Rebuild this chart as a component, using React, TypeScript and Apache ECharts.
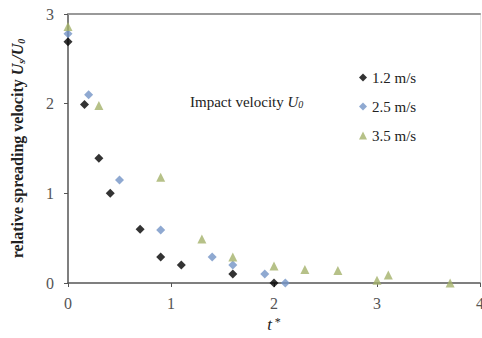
import React, { useEffect, useRef } from "react";
import * as echarts from "echarts";

const xTicks = [0, 1, 2, 3, 4];
const yTicks = [0, 1, 2, 3];

const seriesNames = ["1.2 m/s", "2.5 m/s", "3.5 m/s"];

const v12: [number, number][] = [
  [0, 2.69], [0.16, 1.99], [0.3, 1.39], [0.41, 1.0], [0.7, 0.6],
  [0.9, 0.29], [1.1, 0.2], [1.6, 0.1], [2.0, 0.0],
];
const v25: [number, number][] = [
  [0, 2.78], [0.2, 2.1], [0.5, 1.15], [0.9, 0.59], [1.4, 0.29],
  [1.6, 0.2], [1.91, 0.1], [2.11, 0.0],
];
const v35: [number, number][] = [
  [0, 2.86], [0.3, 1.98], [0.9, 1.18], [1.3, 0.49], [1.6, 0.29],
  [2.0, 0.19], [2.3, 0.15], [2.62, 0.14], [3.0, 0.03], [3.11, 0.09], [3.71, 0.0],
];

const colors = ["#000000", "#7393c6", "#a4b26a"];
const symbols = ["diamond", "diamond", "triangle"];

const serif = "'Liberation Serif', 'Times New Roman', serif";

export default function App() {
  const ref = useRef<HTMLDivElement>(null);
  useEffect(() => {
    document.body.style.margin = "0";
    const chart = echarts.init(ref.current!, null, { renderer: "svg" });
    const data = [v12, v25, v35];
    chart.setOption({
      animation: false,
      backgroundColor: "#ffffff",
      grid: { left: 68, right: 2, top: 14, bottom: 55, outerBoundsMode: "none", containLabel: false },
      legend: {
        orient: "vertical",
        left: 354,
        top: 65,
        itemGap: 14,
        itemWidth: 8,
        itemHeight: 8,
        data: seriesNames,
        textStyle: { fontFamily: serif, fontSize: 15, color: "#222" },
      },
      graphic: [
        {
          type: "text",
          left: 190,
          top: 94,
          style: {
            text: "{n|Impact velocity }{i|U}{s|0}",
            rich: {
              n: { fontFamily: serif, fontSize: 15, fill: "#222" },
              i: { fontFamily: serif, fontSize: 15, fontStyle: "italic", fill: "#222" },
              s: { fontFamily: serif, fontSize: 10, fontStyle: "italic", fill: "#222", padding: [6, 0, 0, 0] },
            },
          },
        },
      ],
      xAxis: [
        {
          type: "value",
          min: 0,
          max: 4,
          interval: 1,
          name: "{i|t}{s|*}",
          nameLocation: "middle",
          nameGap: 32,
          nameTextStyle: {
            rich: {
              i: { fontFamily: serif, fontSize: 17, fontStyle: "italic", color: "#222" },
              s: { fontFamily: serif, fontSize: 12, color: "#222", padding: [0, 0, 6, 3] },
            },
          },
          axisLine: { show: true, onZero: false, lineStyle: { color: "#555", width: 1.5 } },
          axisTick: { show: true, length: 4, lineStyle: { color: "#555" } },
          axisLabel: {
            fontFamily: serif,
            fontSize: 16,
            color: "#555",
            margin: 12,
            formatter: (v: number) => (xTicks.includes(v) ? String(v) : ""),
          },
          splitLine: { show: false },
        },
        {
          type: "value",
          position: "top",
          min: 0,
          max: 4,
          axisLine: { show: true, onZero: false, lineStyle: { color: "#999", width: 2 } },
          axisTick: { show: false },
          axisLabel: { show: false },
          splitLine: { show: false },
        },
      ],
      yAxis: [
        {
          type: "value",
          min: 0,
          max: 3,
          interval: 1,
          name: "{b|relative spreading velocity }{i|U}{s|s}{i|/U}{s|0}",
          nameLocation: "middle",
          nameGap: 42,
          nameRotate: 90,
          nameTextStyle: {
            rich: {
              b: { fontFamily: serif, fontSize: 16, fontWeight: "bold", color: "#222" },
              i: { fontFamily: serif, fontSize: 16, fontWeight: "bold", fontStyle: "italic", color: "#222" },
              s: { fontFamily: serif, fontSize: 10, fontWeight: "bold", fontStyle: "italic", color: "#222", padding: [7, 0, 0, 0] },
            },
          },
          axisLine: { show: true, onZero: false, lineStyle: { color: "#555", width: 1.5 } },
          axisTick: { show: true, length: 4, lineStyle: { color: "#555" } },
          axisLabel: {
            fontFamily: serif,
            fontSize: 16,
            color: "#555",
            margin: 14,
            formatter: (v: number) => (yTicks.includes(v) ? String(v) : ""),
          },
          splitLine: { show: false },
        },
        {
          type: "value",
          position: "right",
          min: 0,
          max: 3,
          axisLine: { show: true, onZero: false, lineStyle: { color: "#e4e4e4", width: 1 } },
          axisTick: { show: false },
          axisLabel: { show: false },
          splitLine: { show: false },
        },
      ],
      series: seriesNames.map((name, i) => ({
        name,
        type: "scatter",
        xAxisIndex: 0,
        yAxisIndex: 0,
        symbol: symbols[i],
        symbolSize: 9,
        itemStyle: { color: colors[i] },
        data: data[i],
        clip: false,
      })),
    });
    return () => chart.dispose();
  }, []);
  return <div ref={ref} style={{ width: 482, height: 338 }} />;
}
